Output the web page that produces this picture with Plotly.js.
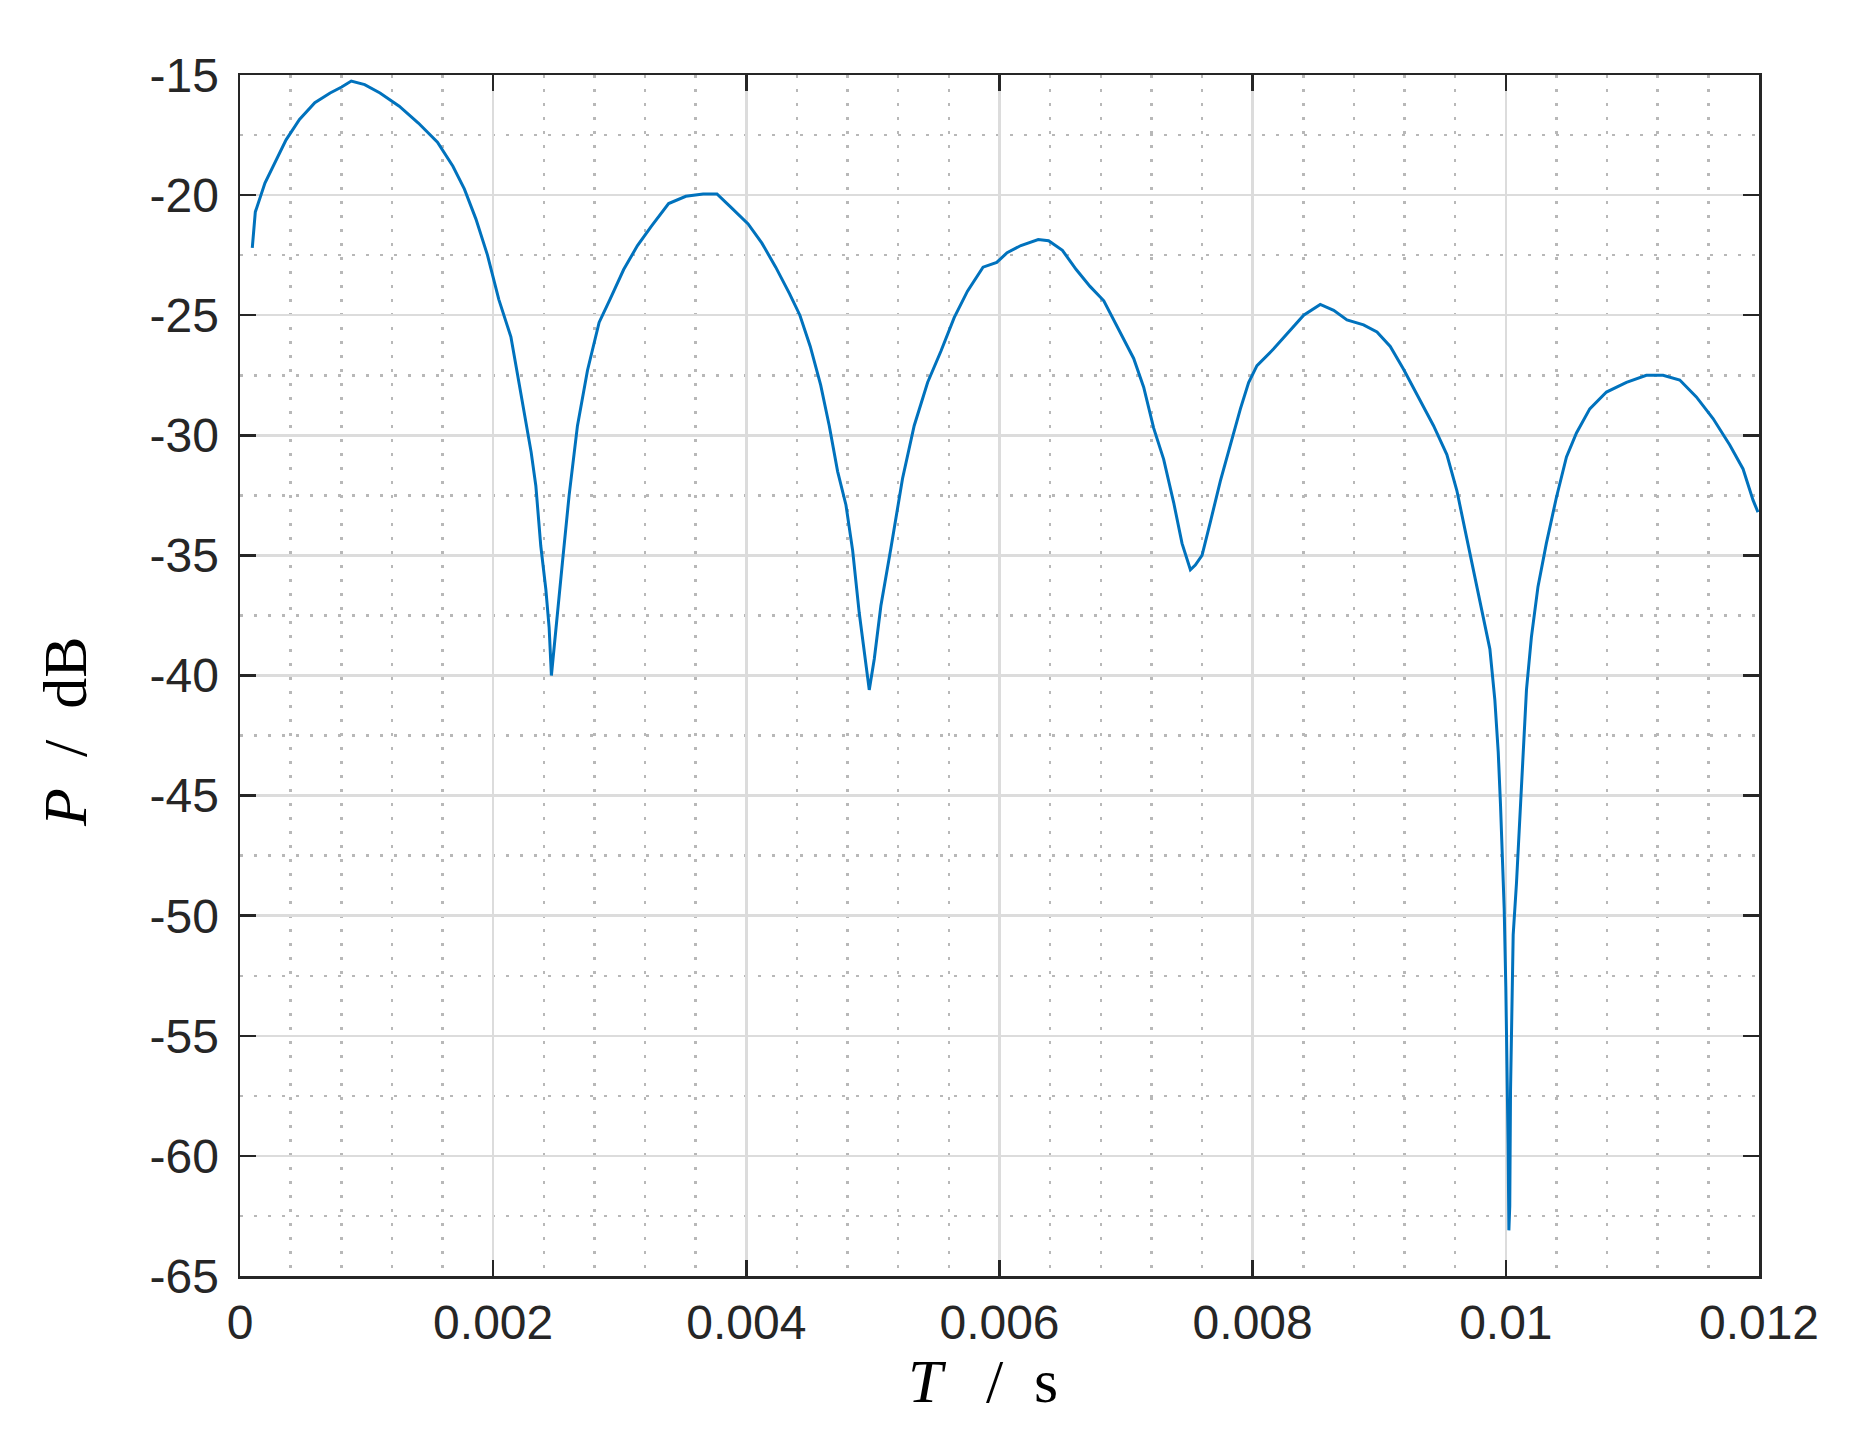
<!DOCTYPE html>
<html>
<head>
<meta charset="utf-8">
<script src="https://cdn.plot.ly/plotly-3.0.1.min.js"></script>
<style>
  html, body { margin: 0; padding: 0; background: #ffffff; }
  #chart { width: 1851px; height: 1433px; }
</style>
</head>
<body>
<div id="chart"></div>
<script>
// Time axis values T (s)
const T_s = [
  0.000097, 0.000121, 0.000197, 0.000273, 0.000364, 0.00047, 0.000591, 0.000712, 0.000803, 0.000879,
  0.000985, 0.001106, 0.001258, 0.001409, 0.00156, 0.001682, 0.001773, 0.001864, 0.001955, 0.002045,
  0.00214, 0.00219, 0.002245, 0.0023, 0.002337, 0.002376, 0.002416, 0.002442, 0.00246, 0.002495,
  0.002547, 0.0026, 0.002666, 0.002745, 0.002837, 0.002922, 0.003031, 0.00314, 0.003249, 0.003386,
  0.003522, 0.003659, 0.003768, 0.003877, 0.004014, 0.004123, 0.004232, 0.004341, 0.004423, 0.004505,
  0.004587, 0.004655, 0.004721, 0.004787, 0.00484, 0.004892, 0.004937, 0.004971, 0.005011, 0.005063,
  0.005142, 0.005234, 0.005326, 0.005432, 0.005537, 0.005642, 0.005747, 0.00587, 0.005978, 0.00606,
  0.006169, 0.006306, 0.006388, 0.006497, 0.006606, 0.006715, 0.006824, 0.006929, 0.00706, 0.007139,
  0.007218, 0.007297, 0.007376, 0.007442, 0.007508, 0.007547, 0.0076, 0.007666, 0.007745, 0.007824,
  0.007903, 0.007968, 0.008034, 0.008166, 0.008297, 0.008403, 0.008534, 0.00864, 0.008745, 0.008876,
  0.008982, 0.009087, 0.009192, 0.009298, 0.009429, 0.009534, 0.009613, 0.009692, 0.009743, 0.009795,
  0.009874, 0.009913, 0.00994, 0.009958, 0.009974, 0.009987, 0.01, 0.01001, 0.010018, 0.010024,
  0.010031, 0.010037, 0.010045, 0.010058, 0.010084, 0.01011, 0.010136, 0.010163, 0.010202, 0.010254,
  0.01032, 0.010399, 0.010479, 0.010558, 0.010663, 0.010795, 0.010953, 0.01111, 0.011242, 0.011374,
  0.011505, 0.011637, 0.011769, 0.011874, 0.011953, 0.011992
];

// Power values P (dB)
const P_dB = [
  -22.2, -20.7, -19.5, -18.65, -17.7, -16.85, -16.15, -15.75, -15.5, -15.25,
  -15.4, -15.75, -16.3, -17.0, -17.8, -18.8, -19.75, -21.0, -22.5, -24.35,
  -25.9, -27.4, -29.1, -30.7, -32.1, -34.6, -36.4, -38.0, -40.0, -38.0,
  -35.3, -32.5, -29.6, -27.3, -25.3, -24.35, -23.1, -22.1, -21.3, -20.35,
  -20.05, -19.95, -19.95, -20.5, -21.2, -22.0, -23.0, -24.1, -25.0, -26.3,
  -27.9, -29.6, -31.5, -32.9, -34.8, -37.4, -39.3, -40.6, -39.3, -37.1,
  -34.7, -31.8, -29.6, -27.8, -26.5, -25.1, -24.0, -23.0, -22.8, -22.4,
  -22.1, -21.85, -21.9, -22.3, -23.1, -23.8, -24.4, -25.45, -26.8, -28.0,
  -29.7, -31.0, -32.8, -34.5, -35.6, -35.4, -35.0, -33.6, -31.9, -30.4,
  -28.9, -27.8, -27.1, -26.4, -25.6, -25.0, -24.55, -24.8, -25.2, -25.4,
  -25.7, -26.3, -27.25, -28.3, -29.6, -30.8, -32.3, -34.3, -35.6, -37.0,
  -38.9, -41.0, -43.2, -45.4, -47.6, -49.7, -53.0, -56.3, -59.5, -63.1,
  -62.1, -57.3, -54.1, -50.8, -48.65, -45.8, -43.2, -40.6, -38.4, -36.3,
  -34.5, -32.6, -30.9, -29.9, -28.9, -28.2, -27.8, -27.5, -27.5, -27.7,
  -28.4, -29.3, -30.4, -31.4, -32.7, -33.2
];

// Tick positions and labels
const xTickVals = [0, 0.002, 0.004, 0.006, 0.008, 0.01, 0.012];
const xTickText = ["0", "0.002", "0.004", "0.006", "0.008", "0.01", "0.012"];
const yTickVals = [-65, -60, -55, -50, -45, -40, -35, -30, -25, -20, -15];
const yTickText = ["-65", "-60", "-55", "-50", "-45", "-40", "-35", "-30", "-25", "-20", "-15"];

// Axis label texts
const xLabel = '<i>T</i>\u2002\u2009/\u2002s';
const yLabel = '<i>P</i>\u2002/\u2002dB';

const axisColor = '#262626';
const tickFont = { family: 'Liberation Sans, Arial, Helvetica, sans-serif', size: 48, color: axisColor };
const titleFont = { family: 'Liberation Serif, DejaVu Serif, serif', size: 62, color: '#000000' };

const trace = {
  x: T_s,
  y: P_dB,
  type: 'scatter',
  mode: 'lines',
  line: { color: '#0072BD', width: 3 },
  hoverinfo: 'x+y'
};

const commonAxis = {
  ticks: 'inside',
  ticklen: 16,
  tickwidth: 2.5,
  tickcolor: axisColor,
  showline: true,
  linecolor: axisColor,
  linewidth: 2.5,
  mirror: 'ticks',
  showgrid: true,
  gridcolor: '#dcdcdc',
  gridwidth: 2.5,
  zeroline: false,
  tickfont: tickFont,
  tickmode: 'array'
};

const layout = {
  width: 1851,
  height: 1433,
  margin: { l: 240, r: 92, t: 75, b: 157 },
  paper_bgcolor: '#ffffff',
  plot_bgcolor: '#ffffff',
  showlegend: false,
  xaxis: Object.assign({}, commonAxis, {
    range: [0, 0.012],
    tickvals: xTickVals,
    ticktext: xTickText,
    ticklabelstandoff: 3,
    minor: { dtick: 0.0004, tick0: 0, showgrid: true, gridcolor: '#b8b8b8', griddash: '2.5px,11.5px', gridwidth: 2.5, ticks: '' }
  }),
  yaxis: Object.assign({}, commonAxis, {
    range: [-65, -15],
    tickvals: yTickVals,
    ticktext: yTickText,
    ticklabelstandoff: 9,
    minor: { dtick: 2.5, tick0: -65, showgrid: true, gridcolor: '#b8b8b8', griddash: '2.5px,11.5px', gridwidth: 2.5, ticks: '' }
  }),
  annotations: [
    {
      text: xLabel, xref: 'paper', yref: 'paper', x: 0.489, y: -0.0874,
      xanchor: 'center', yanchor: 'middle', showarrow: false, font: titleFont
    },
    {
      text: yLabel, xref: 'paper', yref: 'paper', x: -0.1152, y: 0.453,
      xanchor: 'center', yanchor: 'middle', textangle: -90, showarrow: false, font: titleFont
    }
  ]
};

Plotly.newPlot('chart', [trace], layout, { displayModeBar: false, staticPlot: true });
</script>
</body>
</html>
